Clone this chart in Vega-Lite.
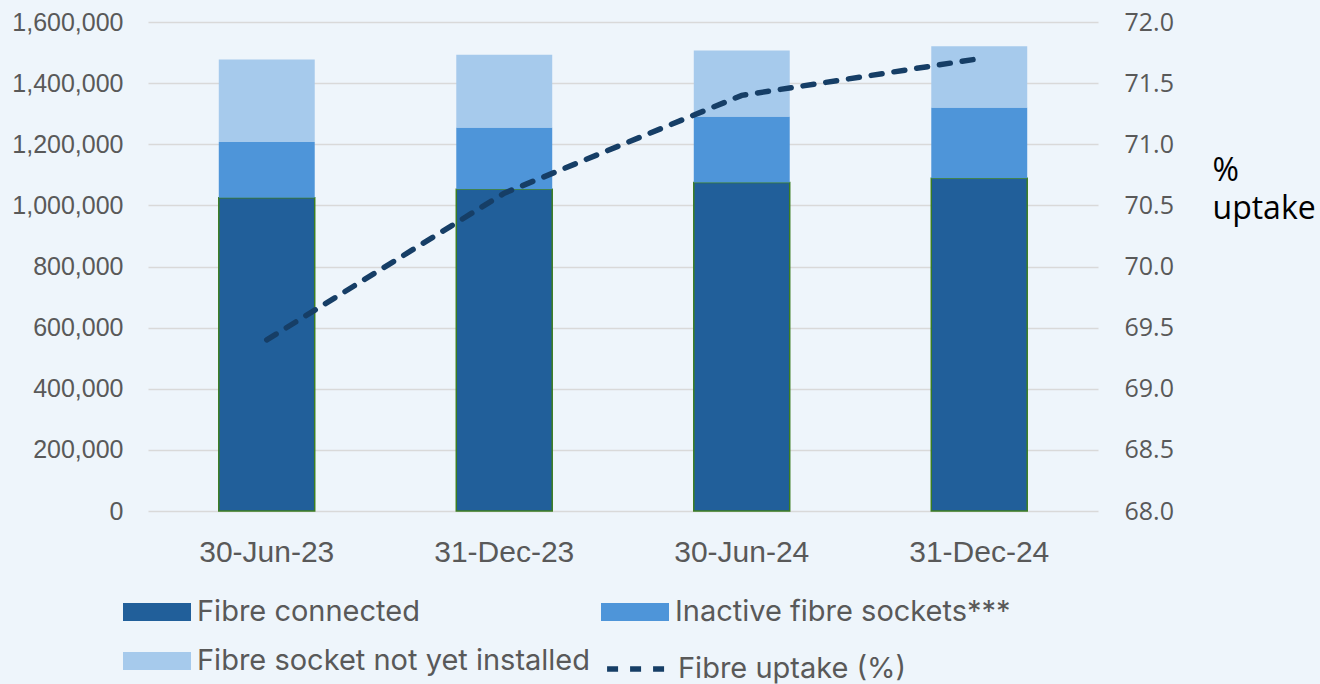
{
  "$schema": "https://vega.github.io/schema/vega-lite/v6.json",
  "width": 950,
  "height": 489,
  "autosize": {"type": "none"},
  "padding": {"left": 148, "top": 22, "right": 222, "bottom": 173},
  "background": "#EEF5FB",
  "config": {"view": {"stroke": null}},
  "datasets": {
    "bars": [
      {"date": "30-Jun-23", "series": "Fibre connected", "seg": 1, "value": 1025000},
      {"date": "30-Jun-23", "series": "Inactive fibre sockets***", "seg": 2, "value": 182000},
      {"date": "30-Jun-23", "series": "Fibre socket not yet installed", "seg": 3, "value": 270000},
      {"date": "31-Dec-23", "series": "Fibre connected", "seg": 1, "value": 1053000},
      {"date": "31-Dec-23", "series": "Inactive fibre sockets***", "seg": 2, "value": 202000},
      {"date": "31-Dec-23", "series": "Fibre socket not yet installed", "seg": 3, "value": 237500},
      {"date": "30-Jun-24", "series": "Fibre connected", "seg": 1, "value": 1075000},
      {"date": "30-Jun-24", "series": "Inactive fibre sockets***", "seg": 2, "value": 216000},
      {"date": "30-Jun-24", "series": "Fibre socket not yet installed", "seg": 3, "value": 215500},
      {"date": "31-Dec-24", "series": "Fibre connected", "seg": 1, "value": 1089000},
      {"date": "31-Dec-24", "series": "Inactive fibre sockets***", "seg": 2, "value": 231000},
      {"date": "31-Dec-24", "series": "Fibre socket not yet installed", "seg": 3, "value": 200600}
    ],
    "uptake": [
      {"date": "30-Jun-23", "uptake": 69.4},
      {"date": "31-Dec-23", "uptake": 70.6},
      {"date": "30-Jun-24", "uptake": 71.4},
      {"date": "31-Dec-24", "uptake": 71.7}
    ]
  },
  "layer": [
    {
      "data": {"name": "bars"},
      "mark": {"type": "bar", "stroke": "#3C7D22", "strokeWidth": 1.5},
      "encoding": {
        "x": {
          "field": "date", "type": "nominal",
          "sort": ["30-Jun-23", "31-Dec-23", "30-Jun-24", "31-Dec-24"],
          "scale": {"paddingInner": 0.596, "paddingOuter": 0.298},
          "axis": {
            "title": null, "labelAngle": 0, "ticks": false, "tickSize": 0, "domain": false,
            "labelFont": "Liberation Sans", "labelFontSize": 30, "labelColor": "#595959", "labelPadding": 26
          }
        },
        "y": {
          "field": "value", "type": "quantitative", "stack": "zero",
          "scale": {"domain": [0, 1600000], "nice": false},
          "axis": {
            "title": null, "values": [0, 200000, 400000, 600000, 800000, 1000000, 1200000, 1400000, 1600000],
            "format": ",d", "ticks": false, "tickSize": 0, "domain": false,
            "grid": true, "gridColor": "#D9D9D9", "gridWidth": 1.5,
            "labelFont": "Liberation Sans", "labelFontSize": 25, "labelColor": "#595959", "labelPadding": 25
          }
        },
        "order": {"field": "seg", "type": "quantitative", "sort": "ascending"},
        "color": {
          "field": "series", "type": "nominal",
          "scale": {
            "domain": ["Fibre connected", "Inactive fibre sockets***", "Fibre socket not yet installed"],
            "range": ["#215F9A", "#4E95D9", "#A6CAEC"]
          },
          "legend": {
            "title": null, "orient": "none", "legendX": -25, "legendY": 556,
            "direction": "horizontal", "columns": 2,
            "labelFont": "Inter", "labelFontSize": 29, "labelColor": "#595959",
            "labelOffset": 6, "columnPadding": 10, "rowPadding": -8, "labelLimit": 700,
            "symbolType": "M-1,-0.265H1V0.265H-1Z", "symbolSize": 4624,
            "symbolStrokeWidth": 0, "symbolOpacity": 1
          }
        },
        "strokeOpacity": {
          "condition": {"test": "datum.series === 'Fibre connected'", "value": 1},
          "value": 0
        }
      }
    },
    {
      "data": {"name": "uptake"},
      "mark": {"type": "line", "color": "#163E66", "strokeWidth": 5.5, "strokeCap": "round"},
      "encoding": {
        "x": {"field": "date", "type": "nominal", "sort": ["30-Jun-23", "31-Dec-23", "30-Jun-24", "31-Dec-24"]},
        "y": {
          "field": "uptake", "type": "quantitative",
          "scale": {"domain": [68, 72], "nice": false, "zero": false},
          "axis": {
            "orient": "right", "values": [68, 68.5, 69, 69.5, 70, 70.5, 71, 71.5, 72],
            "format": ".1f", "ticks": false, "tickSize": 0, "domain": false, "grid": false,
            "labelFont": "Open Sans", "labelFontSize": 25, "labelColor": "#595959", "labelPadding": 26,
            "title": ["%", "uptake"], "titleAngle": 0, "titleAlign": "left", "titleBaseline": "top",
            "titleX": 114, "titleY": 133, "titleFont": "Open Sans", "titleFontSize": 32,
            "titleFontWeight": "normal", "titleColor": "#000000", "titleLineHeight": 38
          }
        },
        "strokeDash": {
          "datum": "Fibre uptake (%)", "type": "nominal",
          "scale": {"domain": ["Fibre uptake (%)"], "range": [[11, 12]]},
          "legend": {
            "title": null, "orient": "none", "legendX": 452, "legendY": 610,
            "labelFont": "Inter", "labelFontSize": 29, "labelColor": "#595959",
            "labelOffset": 4, "labelLimit": 700,
            "symbolType": "M-0.88,0H0.88", "symbolSize": 4624,
            "symbolStrokeColor": "#163E66", "symbolStrokeWidth": 5.5, "symbolOpacity": 1
          }
        }
      }
    }
  ],
  "resolve": {"scale": {"y": "independent"}}
}
